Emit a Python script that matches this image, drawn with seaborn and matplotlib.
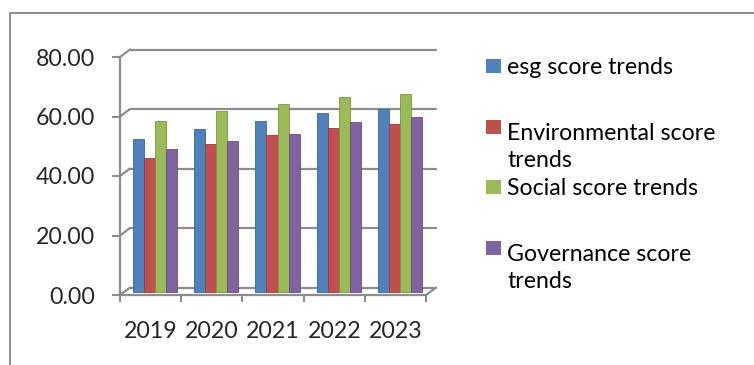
import numpy as np
import pandas as pd
import matplotlib
matplotlib.use("Agg")
import matplotlib.pyplot as plt
import seaborn as sns
from matplotlib import transforms
from matplotlib.patches import Rectangle
from matplotlib.lines import Line2D
from matplotlib.colors import to_rgb

# ---- data ----
years = ["2019", "2020", "2021", "2022", "2023"]
series_names = ["esg score trends", "Environmental score\ntrends",
                "Social score trends", "Governance score\ntrends"]
esg = [51.2, 54.6, 57.3, 60.0, 61.3]
env = [44.9, 49.5, 52.5, 55.1, 56.4]
soc = [57.3, 60.7, 63.1, 65.4, 66.5]
gov = [48.0, 50.6, 53.1, 56.9, 58.7]
yticks = [0, 20, 40, 60, 80]
colors = ["#4F81BD", "#C0504D", "#9BBB59", "#8064A2"]

sns.set_theme(style="white")
plt.rcParams["font.family"] = ["Lato", "DejaVu Sans"]
FS = 16.7
GRAY = "#8C8C8C"

df = pd.DataFrame({
    "year": years * 4,
    "series": np.repeat(series_names, len(years)),
    "value": esg + env + soc + gov,
})

W, H = 754, 365
fig = plt.figure(figsize=(W / 100, H / 100), dpi=100)
ax = fig.add_axes([120 / W, 70 / H, 306 / W, 238 / H])

sns.barplot(data=df, x="year", y="value", hue="series", hue_order=series_names,
            palette=colors, width=0.72, gap=0, saturation=1, legend=False,
            errorbar=None, ax=ax)
ax.set_xlim(-0.5, len(years) - 0.5)
ax.set_ylim(0, 80)

# bars sit halfway into the 3-D depth
mid = transforms.offset_copy(ax.transData, fig=fig, x=4.5, y=3.5, units="dots")
for p in ax.patches:
    fc = np.array(to_rgb(p.get_facecolor()))
    p.set_edgecolor(tuple(fc * 0.78))
    p.set_linewidth(0.6)
    p.set_transform(mid)

# back wall gridlines
back = transforms.offset_copy(ax.transData, fig=fig, x=10, y=7.5, units="dots")
x0, x1 = -0.5, len(years) - 0.5
for v in yticks:
    ax.plot([x0, x1], [v, v], transform=back, color=GRAY, lw=1.6,
            clip_on=False, zorder=0.5)

# depth connectors
fig.canvas.draw()
def px(x, y):
    return ax.transData.transform((x, y))
for v in yticks:
    a = px(x0, v)
    fig.add_artist(Line2D([a[0], a[0] + 10], [a[1], a[1] + 7.5],
                          transform=transforms.IdentityTransform(),
                          color=GRAY, lw=1.6))
a = px(x1, 0)
fig.add_artist(Line2D([a[0], a[0] + 10], [a[1], a[1] + 7.5],
                      transform=transforms.IdentityTransform(),
                      color=GRAY, lw=1.6))

# axes styling
for s in ["top", "right"]:
    ax.spines[s].set_visible(False)
for s in ["left", "bottom"]:
    ax.spines[s].set_color(GRAY)
    ax.spines[s].set_linewidth(1.6)
ax.set_yticks(yticks)
ax.set_yticklabels([f"{v:.2f}" for v in yticks], fontsize=FS)
ax.tick_params(axis="y", direction="out", length=6, width=1.5, color=GRAY,
               pad=12, left=True)
ax.set_xticks(range(len(years)))
ax.set_xticklabels(years, fontsize=FS)
ax.set_xticks(np.arange(-0.5, len(years)), minor=True)
ax.tick_params(axis="x", which="major", length=0, pad=18.5)
ax.tick_params(axis="x", which="minor", direction="out", length=5, width=1.5,
               color=GRAY, bottom=True)
ax.set_xlabel("")
ax.set_ylabel("")
ax.grid(False)

# outer chart frame (partially cropped)
fig.add_artist(Line2D([10 / W, 1], [1 - 13 / H, 1 - 13 / H],
                      transform=fig.transFigure, color="#868686", lw=1.3))
fig.add_artist(Line2D([10 / W, 10 / W], [0, 1 - 13 / H],
                      transform=fig.transFigure, color="#868686", lw=1.3))

# legend
em = FS * 100 / 72
step = 32
centers = [66, 127, 187, 248]
for name, c, yc in zip(series_names, colors, centers):
    fig.patches.append(Rectangle((486 / W, 1 - (yc + 7) / H), 15 / W, 14 / H,
                                 facecolor=c, edgecolor="none",
                                 transform=fig.transFigure, figure=fig))
    nl = name.count("\n")
    base = yc + 0.36 * em + nl * step
    fig.text(507 / W, 1 - base / H, name, fontsize=FS, va="baseline",
             ha="left", linespacing=step / em, color="black")

fig.savefig("out.png", dpi=100)
